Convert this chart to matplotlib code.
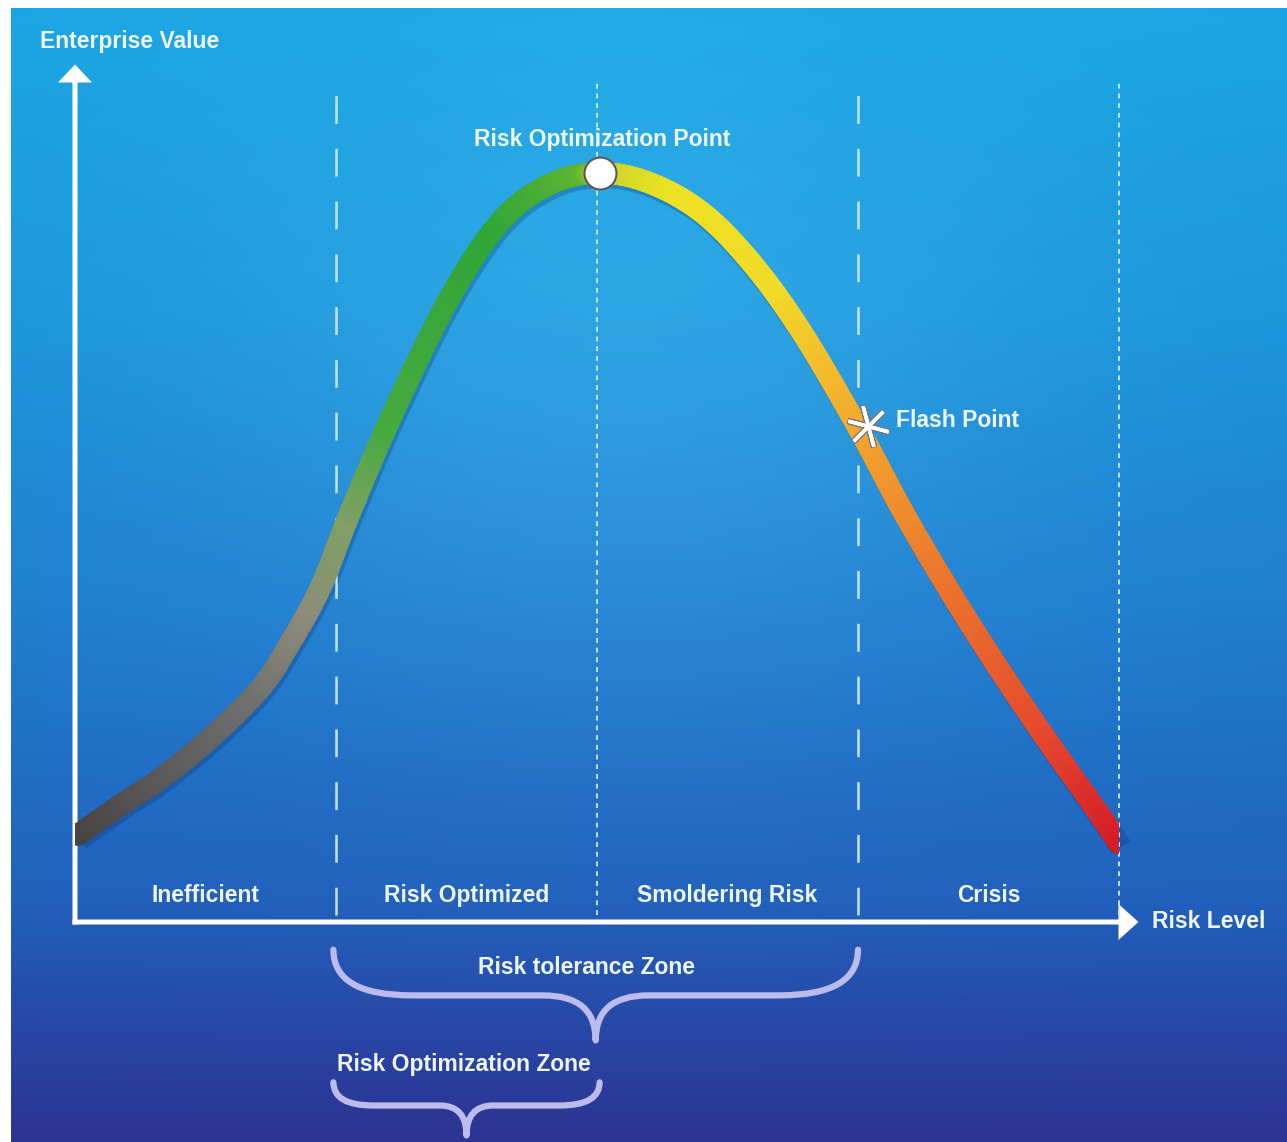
import numpy as np
import matplotlib
matplotlib.use("Agg")
import matplotlib.pyplot as plt
from matplotlib.collections import LineCollection
from matplotlib.patches import PathPatch, Rectangle
from matplotlib.path import Path
import matplotlib.transforms as mtransforms

plt.rcParams["font.family"] = ["Liberation Sans", "DejaVu Sans"]
plt.rcParams["lines.scale_dashes"] = False

# risk level (zone units) vs enterprise value (peak = 10)
risk = [0.01, 0.17, 0.33, 0.52, 0.71, 0.82, 0.94, 1.05, 1.21, 1.43, 1.63, 1.82, 2.01,
        2.20, 2.40, 2.59, 2.78, 3.00, 3.19, 3.42, 3.67, 3.90, 4.00]
value = [1.16, 1.55, 1.92, 2.46, 3.12, 3.70, 4.46, 5.43, 6.73, 8.30, 9.35, 9.85, 10.0,
         9.87, 9.48, 8.81, 7.90, 6.60, 5.37, 4.03, 2.70, 1.56, 1.05]

zone_edges = [1, 2, 3, 4]
zone_names = ["Inefficient", "Risk Optimized", "Smoldering Risk", "Crisis"]
opt_point = (2.01, 10.0)
flash_point = (3.04, 6.62)

# colour along the curve, keyed on risk level
color_pos = [0.0, 0.7, 0.9, 1.05, 1.2, 1.6, 1.95, 2.06, 2.3, 2.7, 3.0, 3.3, 3.7, 4.0]
color_rgb = [(70, 66, 66), (112, 112, 112), (140, 140, 122), (128, 160, 100), (70, 170, 62),
             (48, 165, 56), (92, 180, 50), (200, 212, 40), (236, 226, 36), (242, 218, 40),
             (242, 170, 45), (236, 122, 45), (230, 76, 45), (214, 30, 40)]

W, H, DPI = 1287, 1142, 100
OX, OY = 75, 922          # pixel position of the origin
SX, SY = 261.0, 74.9      # pixels per unit

fig = plt.figure(figsize=(W / DPI, H / DPI), dpi=DPI, facecolor="white")

# background gradient
bg = fig.add_axes([11 / W, 0, 1 - 11 / W, (H - 8) / H])
bh, bw = H - 8, W - 11
yy = np.arange(bh)[:, None] + 8
xx = np.arange(bw)[None, :] + 11
stops_y = [8, 300, 600, 900, 1000, 1142]
stops_c = np.array([(26, 165, 226), (28, 150, 220), (30, 126, 208), (32, 96, 188),
                    (38, 76, 170), (45, 50, 145)], float)
img = np.zeros((bh, bw, 3))
for k in range(3):
    img[:, :, k] = np.interp(yy[:, 0], stops_y, stops_c[:, k])[:, None]
glow = np.exp(-(((xx - 620) / 420.0) ** 2 + ((yy - 380) / 380.0) ** 2))
img += glow[:, :, None] * np.array([18, 16, 8])
bg.imshow(np.clip(img, 0, 255).astype(np.uint8), aspect="auto")
bg.axis("off")

ax = fig.add_axes([0, 0, 1, 1])
ax.patch.set_alpha(0)
ax.set_xlim(-OX / SX, (W - OX) / SX)
ax.set_ylim(-(H - OY) / SY, OY / SY)
ax.axis("off")

txt = dict(color="#eef6fb", fontsize=16.5, fontweight="bold")
dash_col = "#c4e4f6"

# zone boundaries
for i, xe in enumerate(zone_edges):
    if i % 2 == 0:
        ax.plot([xe, xe], [0.1, 11.24], color=dash_col, lw=1.8, ls=(0, (20, 18)))
    else:
        ax.plot([xe, xe], [0.1, 11.24], color=dash_col, lw=1.4, ls=(0, (3.5, 3.5)))


def smooth_path(xs, ys):
    # catmull-rom through the read points, as cubic bezier pieces
    p = np.column_stack([xs, ys])
    ext = np.vstack([p[0], p, p[-1]])
    verts, codes = [tuple(p[0])], [Path.MOVETO]
    for i in range(1, len(ext) - 2):
        c1 = ext[i] + (ext[i + 1] - ext[i - 1]) / 6
        c2 = ext[i + 1] - (ext[i + 2] - ext[i]) / 6
        verts += [tuple(c1), tuple(c2), tuple(ext[i + 1])]
        codes += [Path.CURVE4] * 3
    return Path(verts, codes)


curve = smooth_path(risk, value)

# curve shadow
shadow_tr = mtransforms.offset_copy(ax.transData, fig=fig, x=2, y=-4, units="dots")
ax.add_patch(PathPatch(curve, fill=False, ec="#0a2860", alpha=0.25, lw=16,
                       transform=shadow_tr, capstyle="butt"))

# gradient curve
t = np.linspace(0, 1, 30)
pts = np.vstack([seg(t)[:-1] for seg, _ in curve.iter_bezier()] + [[curve.vertices[-1]]])
segs = np.stack([pts[:-1], pts[1:]], axis=1)
mid = (pts[:-1, 0] + pts[1:, 0]) / 2
crgb = np.array(color_rgb, float) / 255
cols = np.column_stack([np.interp(mid, color_pos, crgb[:, k]) for k in range(3)])
lc = LineCollection(segs, colors=cols, linewidths=15.5, capstyle="round", joinstyle="round")
ax.add_collection(lc)
lc.set_clip_path(Rectangle((0, -1), 4.0, 14, transform=ax.transData))

# axes arrows
y_top = (OY - 62) / SY
x_end = (1141 - OX) / SX
ax.arrow(0, -2.5 / SY, 0, y_top, width=5 / SX, head_width=34 / SX, head_length=18 / SY,
         length_includes_head=True, color="white", lw=0)
ax.arrow(-2.5 / SX, 0, x_end, 0, width=5 / SY, head_width=36 / SY, head_length=20 / SX,
         length_includes_head=True, color="white", lw=0)

# markers
ax.plot(*opt_point, marker="o", ms=23, mfc="white", mec="#5a5a5a", mew=1.5)
ax.plot(*flash_point, marker=(6, 2, 15), ms=31, mec="#7a7a7a", mew=4.5, ls="none")
ax.plot(*flash_point, marker=(6, 2, 15), ms=30, mec="white", mew=2.5, ls="none")

# labels
ax.text(-0.134, 11.75, "Enterprise Value", ha="left", va="center", **txt)
ax.text(2.02, 10.45, "Risk Optimization Point", ha="center", va="center", **txt)
ax.text(3.146, 6.70, "Flash Point", ha="left", va="center", **txt)
ax.text(4.126, 0.01, "Risk Level", ha="left", va="center", **txt)
for i, name in enumerate(zone_names):
    ax.text(i + 0.5, 0.35, name, ha="center", va="center", **txt)


def brace(x0, x1, y_end, y_mid, y_tip, lw):
    xc = (x0 + x1) / 2
    w = xc - x0
    verts = [(x0, y_end), (x0, y_mid), (x0 + 0.3 * w, y_mid),
             (xc - 0.2 * w, y_mid),
             (xc, y_mid), (xc, y_tip),
             (xc, y_mid), (xc + 0.2 * w, y_mid),
             (x1 - 0.3 * w, y_mid),
             (x1, y_mid), (x1, y_end)]
    codes = [Path.MOVETO, Path.CURVE3, Path.CURVE3, Path.LINETO, Path.CURVE3, Path.CURVE3,
             Path.CURVE3, Path.CURVE3, Path.LINETO, Path.CURVE3, Path.CURVE3]
    ax.add_patch(PathPatch(Path(verts, codes), fill=False, ec="#bcbcec", lw=lw,
                           capstyle="round", joinstyle="round"))


brace(zone_edges[0] - 0.01, zone_edges[2], -0.37, -0.98, -1.58, 4.5)
ax.text(1.96, -0.61, "Risk tolerance Zone", ha="center", va="center", **txt)
brace(zone_edges[0] - 0.01, zone_edges[1] + 0.01, -2.14, -2.45, -2.85, 4.5)
ax.text(1.49, -1.90, "Risk Optimization Zone", ha="center", va="center", **txt)

fig.savefig("out.png", dpi=DPI, facecolor="white")
